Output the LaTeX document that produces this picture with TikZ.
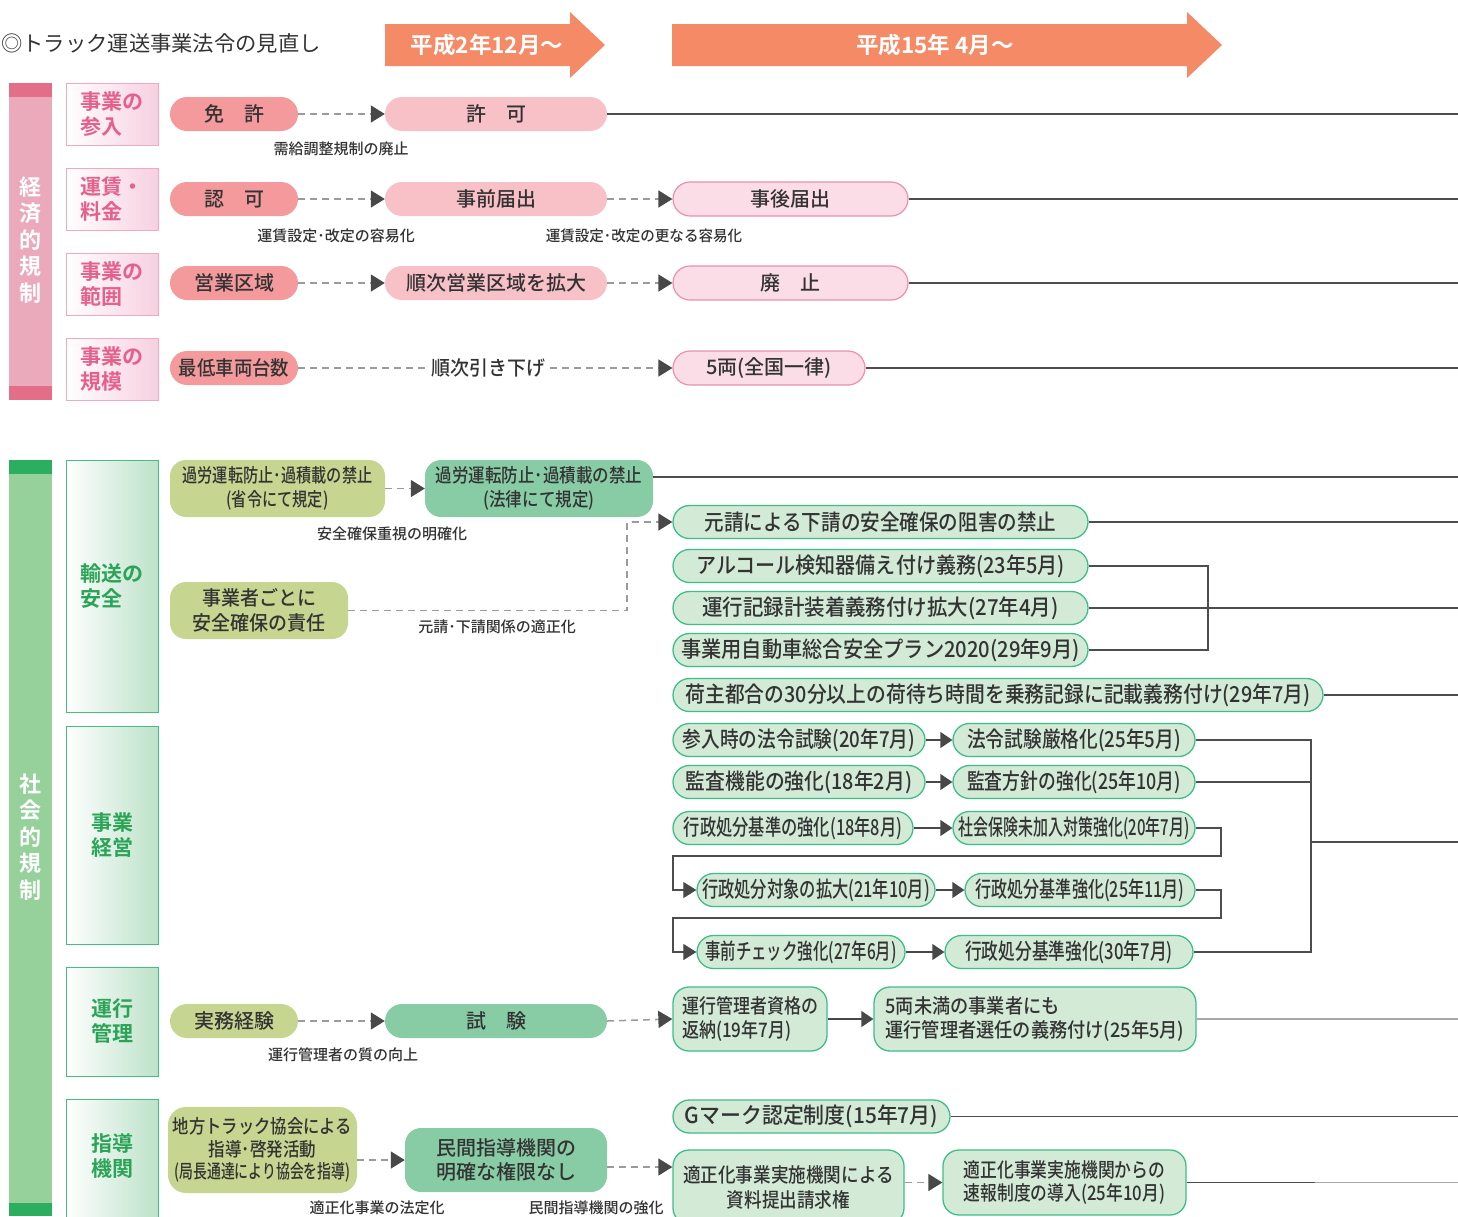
\documentclass[tikz,border=0pt]{standalone}
\usepackage{fontspec}
\usepackage{graphicx}
\setmainfont{Noto Sans CJK JP Medium}[BoldFont={Noto Sans CJK JP Bold}]
\newfontfamily\regfont{Noto Sans CJK JP}
\usetikzlibrary{arrows.meta,calc}
\definecolor{cOrange}{HTML}{F58A67}
\definecolor{cPkBar}{HTML}{EAAABC}
\definecolor{cPkBarD}{HTML}{E36E88}
\definecolor{cPkCatB}{HTML}{F1A8C3}
\definecolor{cPkCatG}{HTML}{F7D0DF}
\definecolor{cPkTxt}{HTML}{E5618C}
\definecolor{cPkA}{HTML}{F49A9C}
\definecolor{cPkB}{HTML}{F8C0C7}
\definecolor{cPkC}{HTML}{FBDDE8}
\definecolor{cPkCB}{HTML}{EE8DAF}
\definecolor{cGnBar}{HTML}{96D09B}
\definecolor{cGnBarD}{HTML}{2BAE5F}
\definecolor{cGnCatB}{HTML}{43BE87}
\definecolor{cGnCatG}{HTML}{BDE2C9}
\definecolor{cGnTxt}{HTML}{2BA457}
\definecolor{cOlive}{HTML}{C6D590}
\definecolor{cMid}{HTML}{88CCA6}
\definecolor{cPale}{HTML}{D3EBD6}
\definecolor{cPaleB}{HTML}{3DBE88}
\definecolor{cTxt}{HTML}{333333}
\definecolor{cLine}{HTML}{4D4D4D}
\definecolor{cLineL}{HTML}{A8A8A8}
\definecolor{cDash}{HTML}{9B9B9B}
\definecolor{cTip}{HTML}{484848}
\newcommand\hs[2]{\scalebox{#1}[1]{#2}}
\newcommand\fzz[2]{\fontsize{#1}{#2}\selectfont}
\begin{document}
\begin{tikzpicture}[x=1pt,y=-1pt,
  nd/.style={inner sep=0pt, align=center, text=cTxt},
  pill/.style={nd, rounded corners=17pt, minimum height=34pt, font=\fzz{20}{24}},
  pkA/.style={pill, fill=cPkA, minimum width=128pt},
  pkB/.style={pill, fill=cPkB, minimum width=222pt},
  pkC/.style={pill, fill=cPkC, draw=cPkCB, line width=1.2pt},
  ol/.style={nd, fill=cOlive, rounded corners=16pt},
  mg/.style={nd, fill=cMid, rounded corners=16pt},
  pg/.style={nd, fill=cPale, draw=cPaleB, line width=1.3pt, rounded corners=16pt},
  gp/.style={pg, rounded corners=16.5pt, minimum height=33pt, font=\fzz{22}{26}},
  lab/.style={nd, font=\fzz{15}{18}},
  pcat/.style={draw=cPkCatB, line width=1pt, left color=white, right color=cPkCatG, minimum width=92pt, minimum height=62pt, inner sep=0pt, align=left, text=cPkTxt, font=\bfseries\fzz{21}{25}},
  gcat/.style={draw=cGnCatB, line width=1pt, left color=white, right color=cGnCatG, minimum width=92pt, inner sep=0pt, align=left, text=cGnTxt, font=\bfseries\fzz{21}{25}},
  bartxt/.style={inner sep=0pt, align=center, text=white, font=\bfseries\fzz{22}{26.5}},
  ln/.style={draw=cLine, line width=1.1pt},
  lnl/.style={draw=cLineL, line width=1.3pt},
  dsh/.style={draw=cDash, line width=1.5pt, dash pattern=on 7pt off 5pt, -{Triangle[length=14pt,width=17pt,color=cTip]}},
  sar/.style={draw=cTip, line width=1.3pt, -{Triangle[length=12pt,width=16pt,color=cTip]}},
  lar/.style={ln, -{Triangle[length=13pt,width=16pt,color=cTip]}}
]
\useasboundingbox (0,0) rectangle (1458,1216);
\clip (0,0) rectangle (1458,1216);

% title and era arrows
\node[anchor=west, text=cTxt, font=\regfont\fzz{21.3}{25}, inner sep=0pt] (title) at (1,43) {◎トラック運送事業法令の見直し};
\fill[cOrange] (385,24) -- (570,24) -- (570,12) -- (605,45) -- (570,78) -- (570,66) -- (385,66) -- cycle;
\node[inner sep=0pt, text=white, font=\bfseries\fzz{22.5}{26}] (era1) at (487,45) {平成2年12月〜};
\fill[cOrange] (672,24) -- (1187,24) -- (1187,12) -- (1222,45) -- (1187,78) -- (1187,66) -- (672,66) -- cycle;
\node[inner sep=0pt, text=white, font=\bfseries\fzz{22.5}{26}] (era2) at (935,45) {平成15年 4月〜};

% economic bar
\fill[cPkBar] (9,83) rectangle (52,400);
\fill[cPkBarD] (9,83) rectangle (52,97);
\fill[cPkBarD] (9,386) rectangle (52,400);
\node[bartxt] (ebar) at (30.5,240) {経\\済\\的\\規\\制};

\node[pcat] (c1) at (112,114) {事業の\\参入};
\node[pcat] (c2) at (112,199) {運賃・\\料金};
\node[pcat] (c3) at (112,284) {事業の\\範囲};
\node[pcat] (c4) at (112,369) {事業の\\規模};

% economic rows
\node[pkA] (n11) at (234,114) {免\hspace{1em}許};
\node[pkB] (n12) at (496,114) {許\hspace{1em}可};
\node[pkA] (n21) at (234,199) {認\hspace{1em}可};
\node[pkB] (n22) at (496,199) {事前届出};
\node[pkC, minimum width=235pt] (n23) at (790.5,199) {事後届出};
\node[pkA] (n31) at (234,283) {営業区域};
\node[pkB] (n32) at (496,283) {順次営業区域を拡大};
\node[pkC, minimum width=235pt] (n33) at (790.5,283) {廃\hspace{1em}止};
\node[pkA] (n41) at (234,368) {\hs{0.92}{最低車両台数}};
\node[pkC, minimum width=192pt] (n43) at (769,368) {5両(全国一律)};

\draw[dsh] (n11.east) -- (n12.west);
\draw[dsh] (n21.east) -- (n22.west);
\draw[dsh] (n22.east) -- (n23.west);
\draw[dsh] (n31.east) -- (n32.west);
\draw[dsh] (n32.east) -- (n33.west);
\draw[dsh] (n41.east) -- (n43.west);
\node[nd, fill=white, inner xsep=3pt, font=\fzz{20}{24}] (l4) at (488,368) {\hs{0.95}{順次引き下げ}};

\node[lab] (l1) at (341,149) {需給調整規制の廃止};
\node[lab] (l2) at (336,236) {運賃設定･改定の容易化};
\node[lab] (l3) at (644,236) {\hs{0.97}{運賃設定･改定の更なる容易化}};

\coordinate (r1) at (1458,114);
\coordinate (r2) at (1458,199);
\coordinate (r3) at (1458,283);
\coordinate (r4) at (1458,368);
\draw[ln] (n12.east) -- (r1);
\draw[ln] (n23.east) -- (r2);
\draw[ln] (n33.east) -- (r3);
\draw[ln] (n43.east) -- (r4);

% social bar
\fill[cGnBar] (9,460) rectangle (52,1216);
\fill[cGnBarD] (9,460) rectangle (52,474);
\fill[cGnBarD] (9,1203) rectangle (52,1216);
\node[bartxt] (sbar) at (30.5,837) {社\\会\\的\\規\\制};

\node[gcat, minimum height=252pt] (c5) at (112,586) {輸送の\\安全};
\node[gcat, minimum height=218pt] (c6) at (112,835) {事業\\経営};
\node[gcat, minimum height=109pt] (c7) at (112,1021.5) {運行\\管理};
\node[gcat, minimum height=141pt] (c8) at (112,1169.5) {};
\node[inner sep=0pt, align=left, text=cGnTxt, font=\bfseries\fzz{21}{25}] (c8t) at (112,1155.5) {指導\\機関};

% transport safety
\node[ol, minimum width=215pt, minimum height=57pt, font=\fzz{19}{24}] (a1) at (277.5,488.5) {\hs{.8}{過労運転防止･過積載の禁止}\\\hs{.8}{(省令にて規定)}};
\node[mg, minimum width=228pt, minimum height=57pt, font=\fzz{19}{24}] (a2) at (539,488.5) {\hs{.87}{過労運転防止･過積載の禁止}\\\hs{.87}{(法律にて規定)}};
\draw[dsh] (a1.east) -- (a2.west);
\coordinate (ra) at (1458,477);
\draw[ln] ([yshift=11.5pt]a2.east) -- (ra);
\node[lab] (l5) at (392,534) {安全確保重視の明確化};

\node[ol, minimum width=178pt, minimum height=57pt, font=\fzz{20}{25}] (b1) at (259,610.5) {\hs{.95}{事業者ごとに}\\\hs{.95}{安全確保の責任}};

\node[gp, minimum width=415pt] (g1) at (880.5,522) {\hs{.89}{元請による下請の安全確保の阻害の禁止}};
\node[gp, minimum width=415pt] (g2) at (880.5,566) {\hs{.91}{アルコール検知器備え付け義務(23年5月)}};
\node[gp, minimum width=415pt] (g3) at (880.5,608) {\hs{.93}{運行記録計装着義務付け拡大(27年4月)}};
\node[gp, minimum width=415pt] (g4) at (880.5,650) {\hs{.92}{事業用自動車総合安全プラン2020(29年9月)}};
\node[gp, minimum width=650pt] (g5) at (998,695) {\hs{.9}{荷主都合の30分以上の荷待ち時間を乗務記録に記載義務付け(29年7月)}};

\draw[dsh] (b1.east) -- ++(279,0) |- (g1.west);
\node[lab] (l6) at (497,627) {元請･下請関係の適正化};
\coordinate (rg1) at (1458,522);
\draw[ln] (g1.east) -- (rg1);
\coordinate (bk1) at (1208,608);
\draw[ln] (g2.east) -| (bk1);
\draw[ln] (g4.east) -| (bk1);
\coordinate (rg3) at (1458,608);
\draw[ln] (g3.east) -- (rg3);
\coordinate (rg5) at (1458,695);
\draw[ln] (g5.east) -- (rg5);

% business management
\node[gp, minimum width=252pt] (h11) at (799,740) {\hs{.85}{参入時の法令試験(20年7月)}};
\node[gp, minimum width=242pt] (h12) at (1074,740) {\hs{.85}{法令試験厳格化(25年5月)}};
\node[gp, minimum width=252pt] (h21) at (799,782) {\hs{.9}{監査機能の強化(18年2月)}};
\node[gp, minimum width=242pt] (h22) at (1074,782) {\hs{.81}{監査方針の強化(25年10月)}};
\node[gp, minimum width=240pt] (h31) at (793,828) {\hs{.74}{行政処分基準の強化(18年8月)}};
\node[gp, minimum width=242pt] (h32) at (1074,828) {\hs{.68}{社会保険未加入対策強化(20年7月)}};
\node[gp, minimum width=238pt] (h41) at (816,890) {\hs{.74}{行政処分対象の拡大(21年10月)}};
\node[gp, minimum width=230pt] (h42) at (1080,890) {\hs{.73}{行政処分基準強化(25年11月)}};
\node[gp, minimum width=208pt] (h51) at (801,952) {\hs{.70}{事前チェック強化(27年6月)}};
\node[gp, minimum width=248pt] (h52) at (1069,952) {\hs{.76}{行政処分基準強化(30年7月)}};

\draw[sar] (h11.east) -- (h12.west);
\draw[sar] (h21.east) -- (h22.west);
\draw[sar] (h31.east) -- (h32.west);
\draw[sar] (h41.east) -- (h42.west);
\draw[sar] (h51.east) -- (h52.west);

\coordinate (k1) at (1221,856);
\coordinate (k2) at (673,856);
\draw[lar] (h32.east) -| (k1) -- (k2) |- (h41.west);
\coordinate (k3) at (1221,918);
\coordinate (k4) at (673,918);
\draw[lar] (h42.east) -| (k3) -- (k4) |- (h51.west);

\coordinate (bb) at (1311,842);
\draw[ln] (h12.east) -| (bb);
\draw[ln] (h22.east) -| (bb);
\draw[ln] (h52.east) -| (bb);
\coordinate (rb) at (1458,842);
\draw[ln] (bb) -- (rb);

% operation management
\node[ol, minimum width=128pt, minimum height=34pt, rounded corners=17pt, font=\fzz{20}{24}] (o1) at (234,1021) {実務経験};
\node[mg, minimum width=222pt, minimum height=34pt, rounded corners=17pt, font=\fzz{20}{24}] (o2) at (496,1021) {試\hspace{1em}験};
\node[pg, minimum width=154pt, minimum height=64pt, align=left, font=\fzz{20}{24.5}] (o3) at (750,1019) {\hs{.85}{運行管理者資格の}\\\hs{.85}{返納(19年7月)}};
\node[pg, minimum width=322pt, minimum height=64pt, align=left, font=\fzz{20}{24.5}] (o4) at (1035,1019) {\hs{.91}{5両未満の事業者にも}\\\hs{.91}{運行管理者選任の義務付け(25年5月)}};
\draw[dsh] (o1.east) -- (o2.west);
\draw[dsh] (o2.east) -- (o3.west);
\draw[sar] (o3.east) -- (o4.west);
\coordinate (ro) at (1458,1019);
\draw[lnl] (o4.east) -- (ro);
\node[lab] (l7) at (343,1055) {運行管理者の質の向上};

% guidance organisations
\node[ol, minimum width=189pt, minimum height=86pt, rounded corners=18pt, font=\fzz{19}{22.5}] (p1) at (262.5,1150) {\hs{.86}{地方トラック協会による}\\\hs{.87}{指導･啓発活動}\\\hs{.73}{(局長通達により協会を指導)}};
\node[mg, minimum width=202pt, minimum height=64pt, font=\fzz{20}{24}] (p2) at (506,1160) {民間指導機関の\\明確な権限なし};
\node[gp, minimum width=277pt] (p3) at (811.5,1116.5) {\hs{.95}{Gマーク認定制度(15年7月)}};
\node[pg, minimum width=231pt, minimum height=74pt, font=\fzz{20}{25}] (p4) at (788.5,1187) {\hs{.88}{適正化事業実施機関による}\\\hs{.88}{資料提出請求権}};
\node[pg, minimum width=243pt, minimum height=65pt, font=\fzz{20}{23}] (p5) at (1064.5,1182.5) {\hs{.84}{適正化事業実施機関からの}\\\hs{.84}{速報制度の導入(25年10月)}};

\draw[dsh] (p1.east |- p2.west) -- (p2.west);
\draw[dsh] ([yshift=-7pt]p2.east) -- ([yshift=-7pt]p2.east -| p4.west);
\draw[dsh] (p4.east |- p5.west) -- (p5.west);
\coordinate (rp3) at (1458,1116.5);
\draw[ln] (p3.east) -- (rp3);
\coordinate (m5) at (1315,1182.5);
\coordinate (rp5) at (1458,1182.5);
\draw[ln] (p5.east) -- (m5);
\draw[lnl] (m5) -- (rp5);
\node[lab] (l8) at (377,1208) {適正化事業の法定化};
\node[lab] (l9) at (596,1208) {民間指導機関の強化};
\end{tikzpicture}
\end{document}
